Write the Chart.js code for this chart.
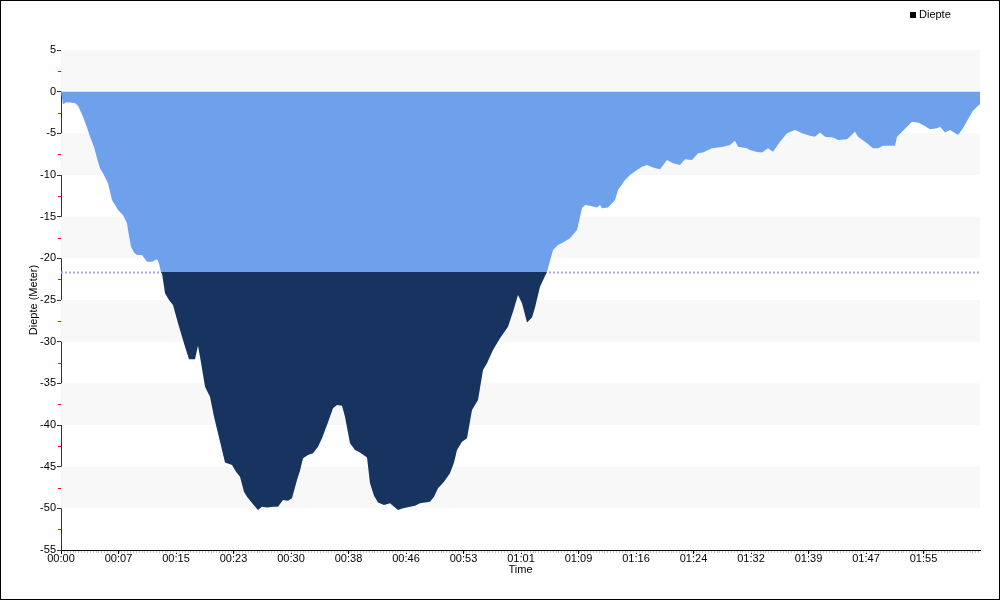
<!DOCTYPE html>
<html>
<head>
<meta charset="utf-8">
<script src="https://cdn.jsdelivr.net/npm/chart.js@4.4.1/dist/chart.umd.min.js"></script>
<style>
  body { margin: 0; background: #fff; }
  #wrap { width: 1000px; height: 600px; box-sizing: border-box; border: 1px solid #000; }
  canvas { display: block; }
</style>
</head>
<body>
<div id="wrap"><canvas id="diveChart" width="998" height="598"></canvas></div>
<script>
// dive profile: time in seconds, depth in meters
const times = [0, 16, 40, 72, 112, 136, 176, 208, 232, 264, 288, 312, 336, 376, 408, 456, 496, 528, 536, 560,
  584, 608, 648, 688, 728, 768, 784, 800, 808, 832, 864, 896, 936, 992, 1024, 1072, 1096, 1120, 1152, 1192,
  1224, 1256, 1288, 1312, 1368, 1400, 1432, 1464, 1488, 1536, 1576, 1608, 1648, 1696, 1736, 1776, 1816, 1848, 1888, 1912,
  1936, 1976, 2016, 2056, 2088, 2128, 2176, 2208, 2248, 2272, 2312, 2352, 2392, 2448, 2472, 2504, 2536, 2584, 2632, 2696,
  2736, 2792, 2832, 2872, 2912, 2952, 2984, 3016, 3064, 3112, 3144, 3168, 3208, 3248, 3288, 3336, 3376, 3408, 3456, 3512,
  3576, 3616, 3656, 3688, 3728, 3768, 3792, 3832, 3888, 3936, 3976, 4016, 4072, 4128, 4168, 4192, 4232, 4288, 4312, 4328,
  4376, 4432, 4456, 4512, 4552, 4608, 4648, 4688, 4736, 4792, 4848, 4896, 4952, 4992, 5048, 5096, 5136, 5208, 5256, 5296,
  5352, 5392, 5416, 5488, 5512, 5560, 5608, 5656, 5696, 5752, 5808, 5872, 5928, 5992, 6032, 6072, 6112, 6176, 6216, 6288,
  6352, 6376, 6448, 6496, 6536, 6576, 6632, 6672, 6688, 6736, 6808, 6856, 6896, 6952, 7008, 7032, 7072, 7112, 7176, 7216,
  7256, 7296, 7336, 7352];
const depths = [0, -1.5, -1.3, -1.3, -1.4, -1.7, -3, -4.3, -5.4, -6.6, -8, -9.2, -9.8, -11, -13, -14.2, -14.8, -15.8, -16.6, -18.6,
  -19.3, -19.6, -19.6, -20.4, -20.4, -20.1, -20.6, -21.7, -21.8, -24.2, -25, -25.6, -27.8, -30.6, -32.1, -32.1, -30.5, -32.5, -35.4, -36.6,
  -39, -41, -43, -44.5, -44.8, -45.6, -46.2, -48, -48.6, -49.5, -50.2, -49.8, -49.9, -49.8, -49.8, -49, -49.1, -48.8, -46.6, -45.5,
  -44, -43.6, -43.4, -42.6, -41.6, -40, -38, -37.6, -37.7, -39, -42.2, -43, -43.3, -43.9, -47, -48.5, -49.3, -49.6, -49.4, -50.2,
  -50, -49.8, -49.7, -49.4, -49.3, -49.2, -48.6, -47.6, -46.8, -45.8, -44.5, -43, -42, -41.6, -38.2, -37, -33.4, -32.6, -31, -29.6,
  -28.2, -26.4, -24.4, -25.4, -27.7, -27.1, -25.9, -23.4, -21.6, -19, -18.4, -18.1, -17.6, -16.6, -14, -13.6, -13.7, -13.9, -13.6, -14,
  -13.9, -13, -11.8, -10.6, -10, -9.4, -9, -8.8, -9.1, -9.3, -8.2, -8.6, -8.8, -8.1, -8.2, -7.4, -7.3, -6.8, -6.7, -6.6,
  -6.4, -5.9, -6.6, -6.8, -7, -7.2, -7.3, -6.8, -7.2, -6, -5, -4.6, -5, -5.3, -5.4, -4.9, -5.4, -5.5, -5.8, -5.7,
  -4.8, -5.4, -6.2, -6.8, -6.8, -6.5, -6.5, -6.5, -5.4, -4.7, -3.6, -3.7, -4, -4.5, -4.4, -4.2, -4.9, -4.6, -5.2, -4.4,
  -3.3, -2.3, -1.7, -1.5];
const limitDepth = -21.7;   // dotted reference line
const timeStep = 460;       // x tick spacing in seconds
const yMin = -55, yMax = 5, yStep = 5;

const lightBlue = "#6fa0ec";
const darkBlue = "#17335f";
const fontFamily = "'Liberation Sans', Arial, sans-serif";

const points = times.map((t, i) => ({ x: t, y: depths[i] }));
const tEnd = times[times.length - 1];

function pad2(n) {
  return (n < 10 ? "0" : "") + n;
}

// fill colour switches at the limit depth
function areaFill(context) {
  const chart = context.chart;
  const area = chart.chartArea;
  if (!area) return lightBlue;
  const yPix = chart.scales.y.getPixelForValue(limitDepth);
  const stop = (yPix - area.top) / (area.bottom - area.top);
  const g = chart.ctx.createLinearGradient(0, area.top, 0, area.bottom);
  g.addColorStop(0, lightBlue);
  g.addColorStop(stop, lightBlue);
  g.addColorStop(stop, darkBlue);
  g.addColorStop(1, darkBlue);
  return g;
}

// grey bands, minor ticks and the small legend
const decorPlugin = {
  id: "decor",
  beforeDatasetsDraw(chart) {
    const { ctx, chartArea, scales } = chart;
    ctx.save();
    ctx.fillStyle = "#f8f8f8";
    for (let v = yMax; v > yMin; v -= 2 * yStep) {
      const top = scales.y.getPixelForValue(v);
      const bot = scales.y.getPixelForValue(v - yStep);
      ctx.fillRect(chartArea.left, top, chartArea.right - chartArea.left, bot - top);
    }
    ctx.restore();
  },
  afterDraw(chart) {
    const { ctx, chartArea, scales } = chart;
    ctx.save();
    // red half-step ticks on y axis
    ctx.strokeStyle = "#ff0000";
    ctx.lineWidth = 1;
    for (let v = yMax - yStep / 2; v > yMin; v -= yStep) {
      const y = Math.round(scales.y.getPixelForValue(v)) + 0.5;
      ctx.beginPath();
      ctx.moveTo(chartArea.left - 3, y);
      ctx.lineTo(chartArea.left, y);
      ctx.stroke();
    }
    // fine minor ticks under the x axis
    ctx.strokeStyle = "#c8c8c8";
    for (let t = timeStep / 20; t <= tEnd; t += timeStep / 20) {
      const x = Math.round(scales.x.getPixelForValue(t)) + 0.5;
      ctx.beginPath();
      ctx.moveTo(x, chartArea.bottom + 1);
      ctx.lineTo(x, chartArea.bottom + 3);
      ctx.stroke();
    }
    // legend
    ctx.fillStyle = "#000";
    ctx.fillRect(909, 11, 6, 6);
    ctx.font = "11px " + fontFamily;
    ctx.textBaseline = "middle";
    ctx.fillText("Diepte", 918, 14);
    ctx.restore();
  },
};

const ctx = document.getElementById("diveChart").getContext("2d");
new Chart(ctx, {
  type: "line",
  data: {
    datasets: [
      {
        label: "Diepte",
        data: points,
        fill: "origin",
        backgroundColor: areaFill,
        borderWidth: 0,
        pointRadius: 0,
        tension: 0,
        order: 1,
      },
      {
        label: "limit",
        data: [{ x: 0, y: limitDepth }, { x: tEnd, y: limitDepth }],
        fill: false,
        borderColor: "#a3a3f7",
        borderWidth: 2,
        borderDash: [2, 2],
        pointRadius: 0,
        order: 2,
      },
    ],
  },
  options: {
    responsive: false,
    animation: false,
    layout: { padding: { top: 49, right: 19, bottom: 0, left: 0 } },
    plugins: {
      legend: { display: false },
      tooltip: { enabled: false },
    },
    scales: {
      x: {
        type: "linear",
        min: 0,
        max: tEnd,
        afterFit(scale) { scale.height = 49; },
        afterBuildTicks(scale) {
          // fixed 7:40 spacing like the source program
          const list = [];
          for (let t = 0; t <= tEnd; t += timeStep) list.push({ value: t });
          scale.ticks = list;
        },
        ticks: {
          autoSkip: false,
          maxRotation: 0,
          padding: -2,
          color: "#000",
          font: { family: fontFamily, size: 11 },
          callback: (v) => pad2(Math.floor(v / 3600)) + ":" + pad2(Math.floor(v / 60) % 60),
        },
        grid: { drawOnChartArea: false, drawTicks: true, tickLength: 4, color: "#000" },
        border: { display: true, color: "#000", width: 1 },
        title: {
          display: true,
          text: "Time",
          color: "#000",
          padding: { top: 0, bottom: 22 },
          font: { family: fontFamily, size: 11 },
        },
      },
      y: {
        min: yMin,
        max: yMax,
        afterFit(scale) { scale.width = 60; },
        ticks: {
          stepSize: yStep,
          padding: 1,
          color: "#000",
          font: { family: fontFamily, size: 11 },
          callback: (v) => String(v),
        },
        grid: { drawOnChartArea: false, drawTicks: true, tickLength: 4, color: "#333" },
        border: { display: true, color: "#333", width: 1 },
        title: {
          display: true,
          text: "Diepte (Meter)",
          color: "#000",
          padding: { top: 26, bottom: 0 },
          font: { family: fontFamily, size: 11 },
        },
      },
    },
  },
  plugins: [decorPlugin],
});
</script>
</body>
</html>
